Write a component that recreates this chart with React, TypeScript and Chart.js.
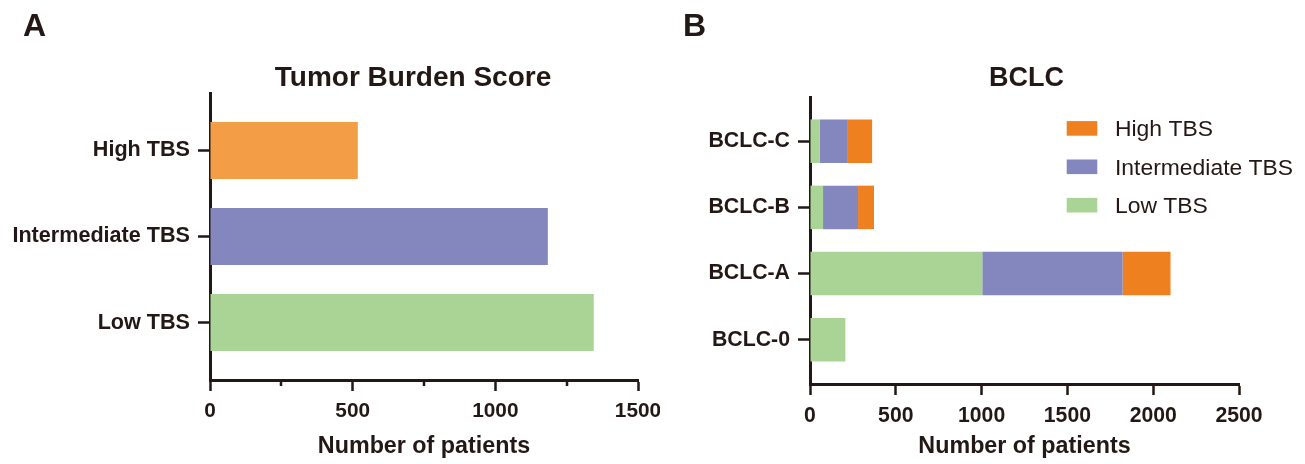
import React, { useEffect, useRef } from 'react';
import { Chart, registerables } from 'chart.js';

Chart.register(...registerables);

// ---------- data ----------
const tbsCategories = ['High TBS', 'Intermediate TBS', 'Low TBS'];
const tbsCounts = [518, 1184, 1345];
const tbsTicks = [0, 500, 1000, 1500];
const tbsMinorTicks = [250, 750, 1250];

const bclcCategories = ['BCLC-C', 'BCLC-B', 'BCLC-A', 'BCLC-0'];
const bclcLow = [56, 76, 1004, 206];
const bclcIntermediate = [160, 204, 818, 0];
const bclcHigh = [146, 93, 279, 0];
const bclcTicks = [0, 500, 1000, 1500, 2000, 2500];

const seriesLabels = ['Low TBS', 'Intermediate TBS', 'High TBS'];

// ---------- styles ----------
const INK = '#231815';
const FAMILY = '"Liberation Sans", Arial, sans-serif';
const COLOR_HIGH_A = '#F39D46';
const COLOR_HIGH_B = '#EE801F';
const COLOR_INTER = '#8487BE';
const COLOR_LOW = '#A9D495';
const Y_PAD = 0.667;

type TextItem = { text: string; x?: number; dx?: number; y: number; font: string; align?: CanvasTextAlign; center?: boolean };

function makeTextPlugin(items: TextItem[]) {
  return {
    id: 'panelText',
    afterDraw(chart: any) {
      const ctx = chart.ctx;
      items.forEach((it) => {
        ctx.save();
        ctx.font = it.font;
        ctx.fillStyle = INK;
        ctx.textAlign = it.align || 'left';
        ctx.textBaseline = 'alphabetic';
        const x = it.center
          ? (chart.chartArea.left + chart.chartArea.right) / 2 + (it.dx || 0)
          : (it.x as number);
        ctx.fillText(it.text, x, it.y);
        ctx.restore();
      });
    },
  };
}

function makeMinorTickPlugin(values: number[], length: number, width: number) {
  return {
    id: 'minorTicks',
    afterDraw(chart: any) {
      const scale = chart.scales.x;
      const ctx = chart.ctx;
      ctx.save();
      ctx.strokeStyle = INK;
      ctx.lineWidth = width;
      ctx.beginPath();
      values.forEach((v) => {
        const x = Math.round(scale.getPixelForValue(v));
        ctx.moveTo(x, scale.top);
        ctx.lineTo(x, scale.top + length);
      });
      ctx.stroke();
      ctx.restore();
    },
  };
}

function makeLegendPlugin(cfg: { x: number; y: number; rowGap: number; boxW: number; boxH: number; textX: number; font: string; capH: number }) {
  return {
    id: 'sideLegend',
    afterDraw(chart: any) {
      const ctx = chart.ctx;
      const ds = [...chart.data.datasets].reverse();
      ctx.save();
      ds.forEach((d: any, i: number) => {
        const cy = cfg.y + i * cfg.rowGap;
        ctx.fillStyle = d.backgroundColor;
        ctx.fillRect(cfg.x, cy - cfg.boxH / 2, cfg.boxW, cfg.boxH);
        ctx.fillStyle = INK;
        ctx.font = cfg.font;
        ctx.textAlign = 'left';
        ctx.textBaseline = 'alphabetic';
        ctx.fillText(d.label, cfg.textX, cy + cfg.capH / 2);
      });
      ctx.restore();
    },
  };
}

function yIndexScale(categories: string[], tickLength: number, fontSize: number, width: number) {
  return {
    type: 'linear' as const,
    reverse: true,
    offset: false,
    min: -Y_PAD,
    max: categories.length - 1 + Y_PAD,
    stacked: true,
    afterBuildTicks: (scale: any) => {
      scale.ticks = categories.map((_, i) => ({ value: i }));
    },
    afterFit: (scale: any) => {
      scale.width = width;
      scale.paddingTop = 0;
      scale.paddingBottom = 0;
    },
    ticks: {
      autoSkip: false,
      callback: (v: any) => categories[v as number] ?? '',
      color: INK,
      font: { family: FAMILY, size: fontSize, weight: 'bold' as const },
      padding: 8,
    },
    grid: {
      display: true,
      offset: false,
      drawOnChartArea: false,
      drawTicks: true,
      tickLength,
      tickWidth: 2.5,
      tickColor: INK,
    },
    border: { display: true, width: 3, color: INK },
  };
}

function xValueScale(max: number, ticksList: number[], fontSize: number, height: number) {
  return {
    type: 'linear' as const,
    min: 0,
    max,
    offset: false,
    stacked: true,
    afterBuildTicks: (scale: any) => {
      scale.ticks = ticksList.map((v) => ({ value: v }));
    },
    afterFit: (scale: any) => {
      scale.height = height;
      scale.paddingLeft = 0;
      scale.paddingRight = 0;
    },
    ticks: {
      autoSkip: false,
      maxRotation: 0,
      callback: (v: any) => String(v),
      color: INK,
      font: { family: FAMILY, size: fontSize, weight: 'bold' as const },
      padding: 8,
    },
    grid: {
      display: true,
      offset: false,
      drawOnChartArea: false,
      drawTicks: true,
      tickLength: 11,
      tickWidth: 2.5,
      tickColor: INK,
    },
    border: { display: true, width: 3, color: INK },
    title: {
      display: true,
      text: 'Number of patients',
      color: INK,
      font: { family: FAMILY, size: 23.3, weight: 'bold' as const },
      padding: { top: 0, bottom: 3 },
    },
  };
}

export default function App() {
  const refA = useRef<HTMLCanvasElement>(null);
  const refB = useRef<HTMLCanvasElement>(null);

  useEffect(() => {
    const chartA = new Chart(refA.current as HTMLCanvasElement, {
      type: 'bar',
      data: {
        datasets: [
          {
            label: 'Tumor Burden Score',
            data: tbsCounts.map((v, i) => ({ x: v, y: i })) as any,
            backgroundColor: [COLOR_HIGH_A, COLOR_INTER, COLOR_LOW],
            borderWidth: 0,
            barPercentage: 0.663,
            categoryPercentage: 1,
          },
        ],
      },
      options: {
        indexAxis: 'y',
        animation: false,
        responsive: false,
        maintainAspectRatio: false,
        layout: { padding: { left: 0, top: 93, right: 22, bottom: 0 } },
        plugins: { legend: { display: false }, tooltip: { enabled: false }, title: { display: false } },
        scales: {
          y: yIndexScale(tbsCategories, 12, 21.6, 210) as any,
          x: xValueScale(1500, tbsTicks, 20.8, 84) as any,
        },
      },
      plugins: [
        makeMinorTickPlugin(tbsMinorTicks, 6, 2.5),
        makeTextPlugin([
          { text: 'A', x: 23, y: 36, font: `bold 32px ${FAMILY}` },
          { text: 'Tumor Burden Score', x: 413, y: 86, font: `bold 28px ${FAMILY}`, align: 'center' },
        ]),
      ],
    });

    const chartB = new Chart(refB.current as HTMLCanvasElement, {
      type: 'bar',
      data: {
        datasets: [
          {
            label: seriesLabels[0],
            data: bclcLow.map((v, i) => ({ x: v, y: i })) as any,
            backgroundColor: COLOR_LOW,
            borderWidth: 0,
            barPercentage: 0.657,
            categoryPercentage: 1,
          },
          {
            label: seriesLabels[1],
            data: bclcIntermediate.map((v, i) => ({ x: v, y: i })) as any,
            backgroundColor: COLOR_INTER,
            borderWidth: 0,
            barPercentage: 0.657,
            categoryPercentage: 1,
          },
          {
            label: seriesLabels[2],
            data: bclcHigh.map((v, i) => ({ x: v, y: i })) as any,
            backgroundColor: COLOR_HIGH_B,
            borderWidth: 0,
            barPercentage: 0.657,
            categoryPercentage: 1,
          },
        ],
      },
      options: {
        indexAxis: 'y',
        animation: false,
        responsive: false,
        maintainAspectRatio: false,
        layout: { padding: { left: 0, top: 97, right: 66, bottom: 0 } },
        plugins: { legend: { display: false }, tooltip: { enabled: false }, title: { display: false } },
        scales: {
          y: yIndexScale(bclcCategories, 12, 21.3, 150) as any,
          x: xValueScale(2500, bclcTicks, 21.2, 80) as any,
        },
      },
      plugins: [
        makeTextPlugin([
          { text: 'B', x: 23, y: 36, font: `bold 32px ${FAMILY}` },
          { text: 'BCLC', center: true, dx: 2, y: 86, font: `bold 27px ${FAMILY}`, align: 'center' },
        ]),
        makeLegendPlugin({
          x: 406.7,
          y: 128.4,
          rowGap: 38.4,
          boxW: 30.6,
          boxH: 14.6,
          textX: 455,
          font: `22.9px ${FAMILY}`,
          capH: 15.6,
        }),
      ],
    });

    return () => {
      chartA.destroy();
      chartB.destroy();
    };
  }, []);

  return (
    <div style={{ position: 'absolute', left: 0, top: 0, width: 1305, height: 464, background: '#ffffff', overflow: 'hidden' }}>
      <canvas ref={refA} width={660} height={464} style={{ position: 'absolute', left: 0, top: 0, width: 660, height: 464 }} />
      <canvas ref={refB} width={645} height={464} style={{ position: 'absolute', left: 660, top: 0, width: 645, height: 464 }} />
    </div>
  );
}
